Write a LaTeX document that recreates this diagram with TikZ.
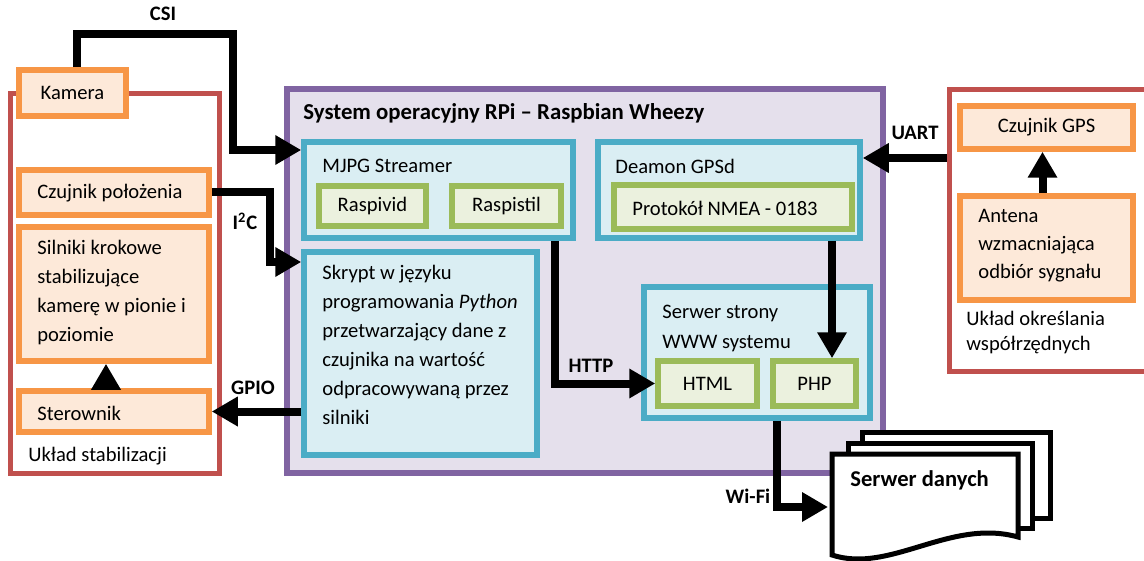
\documentclass[tikz,border=0pt]{standalone}
\usepackage{fontspec}
\setmainfont{Carlito}
\usepackage{xcolor}
\usepackage{tikz}
\usetikzlibrary{arrows.meta}

\definecolor{pomarancz}{HTML}{F79646}
\definecolor{pomaranczjasny}{HTML}{FDE9D9}
\definecolor{czerwony}{HTML}{C0504D}
\definecolor{fiolet}{HTML}{8064A2}
\definecolor{fioletjasny}{HTML}{E5E0EC}
\definecolor{turkus}{HTML}{4BACC6}
\definecolor{turkusjasny}{HTML}{DAEEF3}
\definecolor{zielony}{HTML}{9BBB59}
\definecolor{zielonyjasny}{HTML}{EBF1DE}

\tikzset{
  blok/.style={draw=pomarancz, fill=pomaranczjasny, line width=2.75pt, inner sep=0pt},
  uklad/.style={draw=czerwony, line width=2.5pt, inner sep=0pt},
  rpi/.style={draw=fiolet, fill=fioletjasny, line width=2.75pt, inner sep=0pt},
  modul/.style={draw=turkus, fill=turkusjasny, line width=2.75pt, inner sep=0pt},
  skladnik/.style={draw=zielony, fill=zielonyjasny, line width=2.75pt, inner sep=0pt},
  dokument/.style={draw=black, fill=white, line width=2.5pt},
  opis/.style={anchor=west, inner sep=0pt, align=left},
  etykieta/.style={font=\fontsize{10.3}{12}\selectfont\bfseries, inner sep=0pt},
  lacze/.style={line width=4pt, -{Triangle[length=13pt, width=14pt]}},
}

\begin{document}
\begin{tikzpicture}[x=0.5pt, y=-0.5pt, font=\fontsize{10.3}{14.5}\selectfont]
\useasboundingbox (0,0) rectangle (1144,561);

% uklad stabilizacji
\node[uklad, minimum width=104.5pt, minimum height=189.5pt] (stab) at (114.5,283.5) {};
\node[blok, minimum width=53.5pt, minimum height=23pt] (kamera) at (72.5,93) {Kamera};
\node[blok, minimum width=95pt, minimum height=22.5pt] (czujnik) at (114,192.5) {};
\node[blok, minimum width=95pt, minimum height=67pt] (silniki) at (114,294) {};
\node[blok, minimum width=95pt, minimum height=20.5pt] (sterownik) at (114,411.5) {};

% system RPi
\node[rpi, minimum width=298pt, minimum height=192pt] (rpi) at (585,281) {};
\node[modul, minimum width=134.5pt, minimum height=48pt] (mjpg) at (438.5,190) {};
\node[skladnik, minimum width=53.5pt, minimum height=20pt] (raspivid) at (372.5,206) {Raspivid};
\node[skladnik, minimum width=54.5pt, minimum height=20pt] (raspistil) at (506.5,206) {Raspistil};
\node[modul, minimum width=116.5pt, minimum height=101.5pt] (skrypt) at (420.5,353.5) {};
\node[modul, minimum width=131pt, minimum height=48pt] (gpsd) at (729,190) {};
\node[skladnik, minimum width=119pt, minimum height=22pt] (nmea) at (733,207) {};
\node[modul, minimum width=113pt, minimum height=65.5pt] (www) at (757,352.5) {};
\node[skladnik, minimum width=49.5pt, minimum height=22.5pt] (html) at (707.5,383.5) {HTML};
\node[skladnik, minimum width=41.5pt, minimum height=22.5pt] (php) at (814.5,383.5) {PHP};

% uklad GPS
\node[uklad, minimum width=101.5pt, minimum height=140.5pt] (wsp) at (1050.5,230.5) {};
\node[blok, minimum width=86.5pt, minimum height=21.5pt] (gps) at (1046.5,127.5) {Czujnik GPS};
\node[blok, minimum width=86.5pt, minimum height=52pt] (antena) at (1046.5,248) {};

% serwer danych
\draw[dokument] (862,432) rectangle (1050,518);
\draw[dokument] (848,443) rectangle (1032,528);
\draw[dokument] (832,454) -- (1018,454) -- (1018,537)
  .. controls (950,518) and (890,574) .. (832,555) -- cycle;
\coordinate (dane) at (828,507);

% opisy
\node[opis] (tczujnik) at (37,193) {Czujnik położenia};
\node[opis] (tsilniki) at (37,292.5) {Silniki krokowe\\stabilizujące\\kamerę w pionie i\\poziomie};
\node[opis] (tsterownik) at (37,413) {Sterownik};
\node[opis] (tstab) at (28,456) {Układ stabilizacji};
\node[opis, font=\fontsize{11.4}{13}\selectfont\bfseries] (trpi) at (303,113) {System operacyjny RPi – Raspbian Wheezy};
\node[opis] (tmjpg) at (322,166) {MJPG Streamer};
\node[opis] (tskrypt) at (322,345) {Skrypt w języku\\programowania \textit{Python}\\przetwarzający dane z\\czujnika na wartość\\odpracowywaną przez\\silniki};
\node[opis] (tgpsd) at (615,166) {Deamon GPSd};
\node[opis] (tnmea) at (632,208) {Protokół NMEA - 0183};
\node[opis, font=\fontsize{10.3}{15}\selectfont] (twww) at (662,328) {Serwer strony\\WWW systemu};
\node[opis, font=\fontsize{10.3}{14}\selectfont] (tantena) at (978,246) {Antena\\wzmacniająca\\odbiór sygnału};
\node[opis, font=\fontsize{10.3}{12.5}\selectfont] (twsp) at (966,332.5) {Układ określania\\współrzędnych};
\node[opis, font=\fontsize{11.3}{13}\selectfont\bfseries] (tdane) at (850,480) {Serwer danych};

% etykiety polaczen
\node[etykieta] (csi) at (163,14) {CSI};
\node[etykieta] (i2c) at (245,221) {I\textsuperscript{2}C};
\node[etykieta] (gpio) at (253,388) {GPIO};
\node[etykieta] (http) at (591,366) {HTTP};
\node[etykieta] (uart) at (915,133) {UART};
\node[etykieta] (wifi) at (748,496) {Wi-Fi};

% polaczenia
\draw[lacze] ([xshift=2.25pt]kamera.north) -- ++(0,-33) -| ([xshift=-34pt, yshift=20pt]mjpg.west) -- ([yshift=20pt]mjpg.west);
\draw[lacze] (czujnik.east) -| ([xshift=-15.5pt, yshift=45.75pt]skrypt.west) -- ([yshift=45.75pt]skrypt.west);
\draw[lacze] (skrypt.west |- sterownik.east) -- (sterownik.east);
\draw[lacze] ([xshift=-4pt]sterownik.north) -- ([xshift=-4pt]silniki.south);
\draw[lacze] ([xshift=58.25pt]mjpg.south) |- (html.west);
\draw[lacze] ([xshift=8.75pt]php.north |- gpsd.south) -- ([xshift=8.75pt]php.north);
\draw[lacze] ([yshift=16pt]wsp.west |- gpsd.east) -- ([yshift=16pt]gpsd.east);
\draw[lacze] ([xshift=-2pt]antena.north) -- ([xshift=-2pt]gps.south);
\draw[lacze] ([xshift=10pt]www.south) |- (dane);
\end{tikzpicture}
\end{document}
